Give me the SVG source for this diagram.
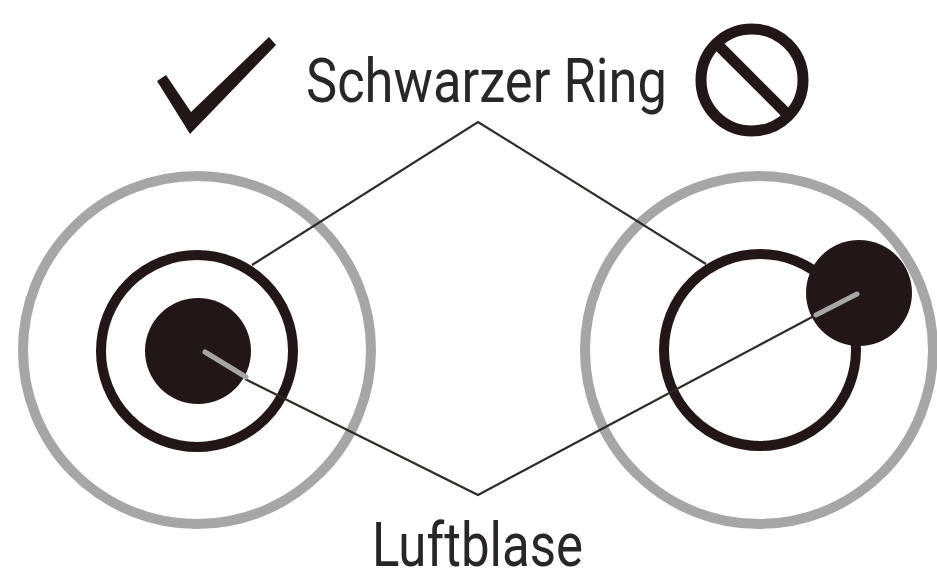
<svg xmlns="http://www.w3.org/2000/svg" width="937" height="569" viewBox="0 0 937 569">
<defs>
<filter id="soft" x="-2%" y="-2%" width="104%" height="104%"><feGaussianBlur stdDeviation="0.7"/></filter>
</defs>
<style>
.g{fill:none;stroke:#a6a6a6;stroke-width:10}
.k{fill:none;stroke:#231815;stroke-width:10}
.d{fill:#231815}
.l{fill:none;stroke:#2e2a28;stroke-width:2.2}
.h{fill:none;stroke:#a6a6a6;stroke-width:5;stroke-linecap:round}
.t{font-family:Roboto,"Liberation Sans",Arial,sans-serif;font-size:61px;fill:#2b2827}
</style>
<rect width="937" height="569" fill="#fff"/>
<g filter="url(#soft)">
<g id="left-lens">
<circle class="g" cx="197" cy="350" r="174"/>
<circle class="k" cx="197" cy="351" r="96"/>
<circle class="d" cx="198" cy="351" r="53"/>
</g>
<g id="right-lens">
<circle class="g" cx="759" cy="350" r="174"/>
<circle class="k" cx="760" cy="350" r="96"/>
<circle class="d" cx="859" cy="293" r="53"/>
</g>
<g id="connectors">
<polyline class="l" points="252,265 478,122 706,264"/>
<polyline class="l" points="245,379 478,495 814,316"/>
<line class="h" x1="205" y1="352" x2="246" y2="377"/>
<line class="h" x1="857" y1="294" x2="816" y2="315"/>
</g>
<g id="check">
<polygon class="d" points="157,81 166,75 191,112 269,37 276,45 190,134"/>
</g>
<g id="prohibited">
<circle cx="752" cy="80" r="51" fill="none" stroke="#231815" stroke-width="11"/>
<line x1="718" y1="45" x2="786" y2="113" stroke="#231815" stroke-width="11"/>
</g>
<g id="label-ring"><text class="t" x="306" y="102" textLength="361" lengthAdjust="spacingAndGlyphs">Schwarzer Ring</text></g>
<g id="label-blase"><text class="t" x="372" y="566" textLength="211" lengthAdjust="spacingAndGlyphs">Luftblase</text></g>
</g>
</svg>
